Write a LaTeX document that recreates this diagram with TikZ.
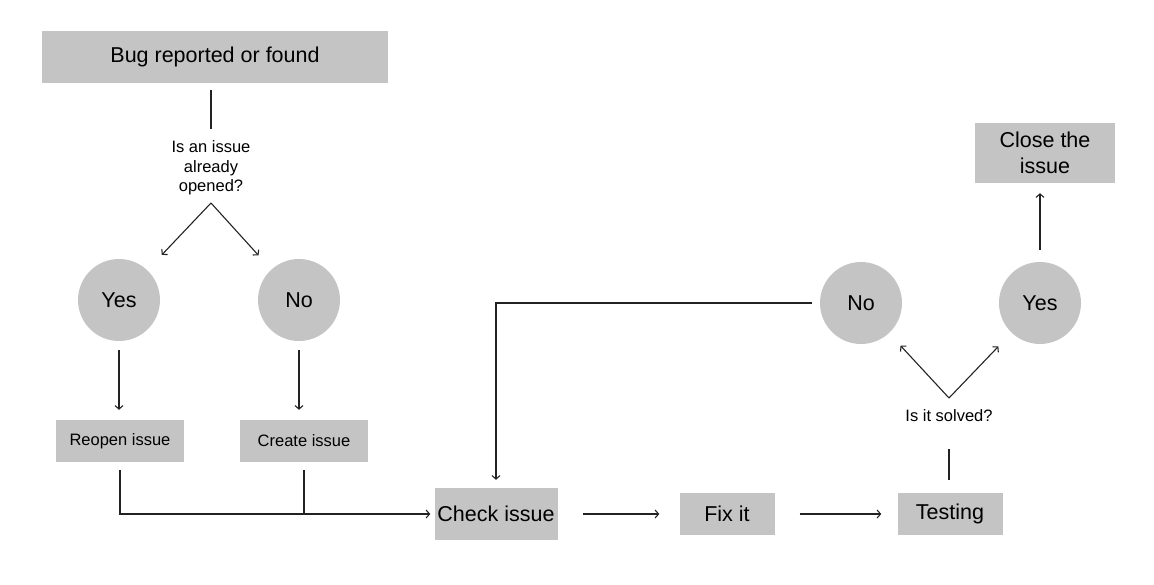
\documentclass[tikz,border=0pt]{standalone}
\usepackage{fontspec}
\setmainfont{Liberation Sans}
\usepackage{xcolor}
\usetikzlibrary{arrows.meta,positioning}
\definecolor{boxgray}{HTML}{C4C4C4}
\definecolor{inkline}{HTML}{222222}

\begin{document}
\begin{tikzpicture}[
  x=1pt,y=-1pt,
  box/.style={fill=boxgray,align=center,inner sep=2pt,text=black,font=\fontsize{21.5}{26}\selectfont},
  smallbox/.style={box,font=\fontsize{16.5}{19.5}\selectfont},
  circ/.style={circle,fill=boxgray,minimum size=82pt,inner sep=0pt,font=\fontsize{21.5}{26}\selectfont},
  ask/.style={align=center,inner sep=0pt,font=\fontsize{16.5}{19.5}\selectfont},
  link/.style={draw=inkline,line width=1.1pt},
  arr/.style={link,-{Straight Barb[length=3.5pt,width=8pt]}}
]
\useasboundingbox (0,0) rectangle (1154,585);

% first question
\node[box,minimum width=346pt,minimum height=52pt] (bug) at (215,57) {Bug reported or found};
\node[ask] (askopen) at (211,168) {Is an issue\\already\\opened?};
\coordinate (forkopen) at (211,203);
\node[circ] (yesopen) at (119,300) {Yes};
\node[circ] (noopen) at (299,300) {No};
\node[smallbox,minimum width=128pt,minimum height=42pt] (reopen) at (120,441) {Reopen issue};
\node[smallbox,minimum width=128pt,minimum height=42pt] (create) at (304,441) {Create issue};

% main line
\node[box,minimum width=123pt,minimum height=52pt] (check) at (496,514) {Check issue};
\node[box,minimum width=95pt,minimum height=42pt] (fix) at (727,514) {Fix it};
\node[box,minimum width=105pt,minimum height=42pt] (testing) at (950,514) {Testing};

% second question
\node[ask] (asksolved) at (949,416) {Is it solved?};
\coordinate (forksolved) at (949,398);
\node[circ] (nosolved) at (861,303) {No};
\node[circ] (yessolved) at (1040,303) {Yes};
\node[box,minimum width=140pt,minimum height=60pt] (close) at (1045,153) {Close the\\issue};

\draw[link,shorten <=7pt,shorten >=12pt] (askopen.north |- bug.south) -- (askopen.north);
\draw[arr,shorten >=21pt] (forkopen) -- (yesopen);
\draw[arr,shorten >=19pt] (forkopen) -- (noopen);
\draw[arr,shorten <=9pt,shorten >=10pt] (yesopen) -- (yesopen |- reopen.north);
\draw[arr,shorten <=9pt,shorten >=10pt] (noopen) -- (noopen |- create.north);
\draw[arr,shorten <=8pt,shorten >=4pt] (reopen) |- (check);
\draw[link,shorten <=8pt] (create) -- (create |- check);
\draw[arr,shorten <=25pt,shorten >=20pt] (check) -- (fix);
\draw[arr,shorten <=25pt,shorten >=16pt] (fix) -- (testing);
\draw[link,shorten <=13pt,shorten >=27pt] (testing.north -| asksolved.south) -- (asksolved.south);
\draw[arr,shorten >=17pt] (forksolved) -- (nosolved);
\draw[arr,shorten >=19pt] (forksolved) -- (yessolved);
\draw[arr,shorten <=12pt,shorten >=10pt] (yessolved.north) -- (yessolved.north |- close.south);
\draw[arr,shorten <=8pt,shorten >=8pt] (nosolved) -| (check);
\end{tikzpicture}
\end{document}
